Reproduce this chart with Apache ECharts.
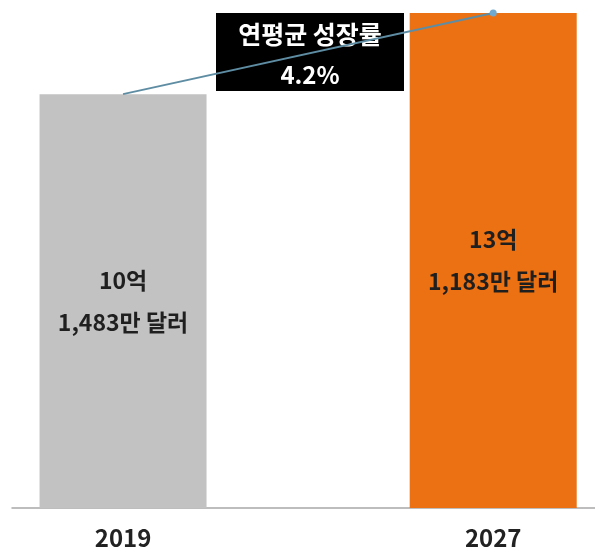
<!DOCTYPE html>
<html>
<head>
<meta charset="utf-8">
<script src="https://cdn.jsdelivr.net/npm/echarts@6/dist/echarts.min.js"></script>
<style>
html,body{margin:0;padding:0;background:#fff;}
#chart{width:595px;height:553px;}
</style>
</head>
<body>
<div id="chart"></div>
<script>
// Data (values in 억 달러)
const years = ['2019', '2027'];
const values = [10.1483, 13.1183];
const barLabels = ['10억\n1,483만 달러', '13억\n1,183만 달러'];
const barColors = ['#C2C2C2', '#EC7113'];
const growthTitle = '연평균 성장률';
const growthValue = '4.2%';
const axisStart = -5;

const FONT = '"Noto Sans CJK KR", "Noto Sans", sans-serif';
const chart = echarts.init(document.getElementById('chart'), null, {renderer: 'canvas'});

const barData = values.map((v, i) => ({
  value: [i, v],
  itemStyle: {color: barColors[i]},
  label: {formatter: barLabels[i]}
}));
const lineData = values.map((v, i) => ({
  value: [i, v],
  symbol: i === values.length - 1 ? 'circle' : 'none',
  symbolSize: 7
}));

chart.setOption({
  animation: false,
  backgroundColor: '#fff',
  grid: {left: 12, right: 0, top: 13, bottom: 45, containLabel: false},
  xAxis: {
    type: 'value',
    min: -0.3,
    max: 1.275,
    splitLine: {show: false},
    axisTick: {show: false},
    axisLine: {show: true, onZero: false, lineStyle: {color: '#A8A8A8', width: 1.5}},
    axisLabel: {
      customValues: years.map((y, i) => i),
      formatter: v => years[v],
      fontFamily: FONT,
      fontSize: 24,
      fontWeight: 'bold',
      color: '#222',
      margin: 18
    }
  },
  yAxis: {
    type: 'value',
    min: axisStart,
    startValue: axisStart,
    max: 'dataMax',
    show: false
  },
  series: [
    {
      type: 'bar',
      data: barData,
      barWidth: 167,
      label: {
        show: true,
        position: 'inside',
        fontFamily: FONT,
        fontSize: 23,
        fontWeight: 'bold',
        color: '#1f1f1f',
        lineHeight: 42
      },
      z: 2
    },
    {
      type: 'line',
      data: lineData,
      lineStyle: {color: '#5E8DA3', width: 2},
      itemStyle: {color: '#6FA9CF'},
      z: 3
    }
  ],
  graphic: [
    {
      type: 'group',
      left: 216,
      top: 13,
      z: 100,
      children: [
        {type: 'rect', shape: {x: 0, y: 0, width: 188, height: 78}, style: {fill: '#000'}},
        {
          type: 'text',
          x: 94, y: 21,
          style: {text: growthTitle, fill: '#fff', font: 'bold 25px ' + FONT, align: 'center', verticalAlign: 'middle'}
        },
        {
          type: 'text',
          x: 94, y: 62,
          style: {text: growthValue, fill: '#fff', font: 'bold 24px ' + FONT, align: 'center', verticalAlign: 'middle'}
        }
      ]
    }
  ]
});
</script>
</body>
</html>
